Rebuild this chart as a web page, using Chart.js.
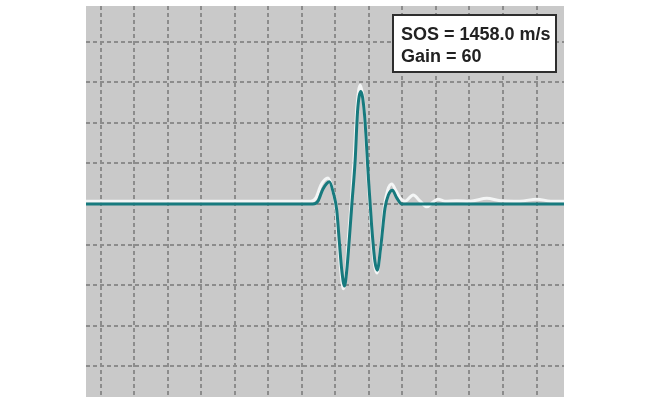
<!DOCTYPE html>
<html>
<head>
<meta charset="utf-8">
<script src="https://cdn.jsdelivr.net/npm/chart.js@4.4.1/dist/chart.umd.min.js"></script>
<style>
  html, body { margin: 0; padding: 0; background: #ffffff; }
  #wrap { width: 651px; height: 407px; }
</style>
</head>
<body>
<div id="wrap"><canvas id="c" width="651" height="407"></canvas></div>
<script>
// Time axis (grid units) and amplitudes (grid units)
const signalTime = [-0.44, 6.33, 6.48, 6.63, 6.82, 6.94, 7.04, 7.12, 7.19, 7.27, 7.34, 7.42, 7.49, 7.59, 7.66, 7.76, 7.87, 7.98, 8.08, 8.18, 8.25, 8.35, 8.48, 8.58, 8.70, 8.83, 8.98, 13.82];
const signalAmp  = [0, 0, 0.07, 0.37, 0.55, 0.27, -0.15, -0.96, -1.63, -2.02, -1.63, -0.81, -0.02, 1.08, 2.27, 2.77, 2.19, 0.71, -0.52, -1.42, -1.63, -1.08, -0.10, 0.22, 0.34, 0.15, 0, 0];

const echoTime = [-0.44, 6.27, 6.42, 6.57, 6.78, 6.91, 7.01, 7.09, 7.16, 7.24, 7.32, 7.39, 7.47, 7.56, 7.64, 7.74, 7.86, 7.96, 8.06, 8.16, 8.24, 8.34, 8.47, 8.56, 8.68, 8.81, 8.93, 9.08, 9.32, 9.53, 9.73, 9.91, 10.06, 10.27, 10.62, 11.02, 11.52, 11.92, 12.51, 13.01, 13.42, 13.82];
const echoAmp  = [0.07, 0.07, 0.15, 0.47, 0.64, 0.37, -0.07, -0.91, -1.63, -2.09, -1.67, -0.81, 0.02, 1.16, 2.36, 2.93, 2.32, 0.79, -0.49, -1.45, -1.70, -1.13, -0.02, 0.34, 0.49, 0.32, 0.15, 0.07, 0.22, 0.07, -0.07, 0.05, 0.12, 0.07, 0.08, 0.07, 0.14, 0.08, 0.07, 0.12, 0.07, 0.07];

const xGridTicks = [0, 1, 2, 3, 4, 5, 6, 7, 8, 9, 10, 11, 12, 13];
const yGridTicks = [-4, -3, -2, -1, 0, 1, 2, 3, 4];
const xRange = [-0.44, 13.82];
const yRange = [-4.754, 4.877];

const infoLines = ['SOS = 1458.0 m/s', 'Gain = 60'];

const toPoints = (xs, ys) => xs.map((x, i) => ({ x: x, y: ys[i] }));

const bgPlugin = {
  id: 'bg',
  beforeDraw(chart) {
    const a = chart.chartArea, ctx = chart.ctx;
    ctx.save();
    ctx.fillStyle = '#c9c9c9';
    ctx.fillRect(a.left, a.top, a.right - a.left, a.bottom - a.top);
    ctx.restore();
  }
};

const infoPlugin = {
  id: 'info',
  afterDraw(chart) {
    const a = chart.chartArea, ctx = chart.ctx;
    const x0 = a.right - 171, y0 = a.top + 9, w = 163, h = 57;
    ctx.save();
    ctx.fillStyle = '#ffffff';
    ctx.fillRect(x0, y0, w, h);
    ctx.lineWidth = 2;
    ctx.strokeStyle = '#2e2e2e';
    ctx.strokeRect(x0, y0, w, h);
    ctx.fillStyle = '#222222';
    ctx.font = 'bold 18px "Liberation Sans", Arial, sans-serif';
    ctx.textBaseline = 'alphabetic';
    ctx.fillText(infoLines[0], x0 + 8, y0 + 25);
    ctx.fillText(infoLines[1], x0 + 8, y0 + 47);
    ctx.restore();
  }
};

const gridOpts = { color: '#8c8c8c', lineWidth: 2, drawTicks: false };
const borderOpts = { display: false, dash: [4, 3] };

new Chart(document.getElementById('c'), {
  type: 'scatter',
  data: {
    datasets: [
      {
        label: 'echo',
        data: toPoints(echoTime, echoAmp),
        showLine: true,
        borderColor: '#f4f6f6',
        borderWidth: 3,
        pointRadius: 0,
        cubicInterpolationMode: 'monotone',
        order: 2
      },
      {
        label: 'signal',
        data: toPoints(signalTime, signalAmp),
        showLine: true,
        borderColor: '#177a7e',
        borderWidth: 3,
        pointRadius: 0,
        cubicInterpolationMode: 'monotone',
        order: 1
      }
    ]
  },
  options: {
    responsive: false,
    animation: false,
    devicePixelRatio: 1,
    layout: { padding: { left: 86, right: 87, top: 6, bottom: 10 } },
    plugins: { legend: { display: false }, tooltip: { enabled: false }, title: { display: false } },
    scales: {
      x: {
        type: 'linear',
        min: xRange[0], max: xRange[1],
        grid: gridOpts,
        border: borderOpts,
        ticks: { display: false },
        afterBuildTicks: (s) => { s.ticks = xGridTicks.map(v => ({ value: v })); }
      },
      y: {
        type: 'linear',
        min: yRange[0], max: yRange[1],
        grid: gridOpts,
        border: borderOpts,
        ticks: { display: false },
        afterBuildTicks: (s) => { s.ticks = yGridTicks.map(v => ({ value: v })); }
      }
    }
  },
  plugins: [bgPlugin, infoPlugin]
});
</script>
</body>
</html>
